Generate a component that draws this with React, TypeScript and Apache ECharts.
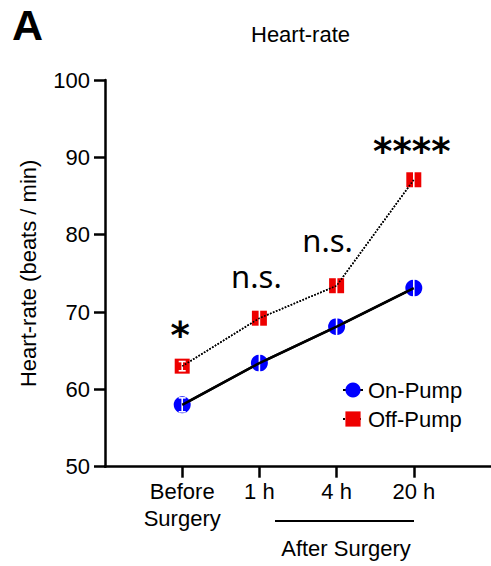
import React, { useEffect, useRef } from "react";
import * as echarts from "echarts";

const categories = ["Before\nSurgery", "1 h", "4 h", "20 h"];
const onPump = [58.0, 63.4, 68.1, 73.1];
const onPumpErr = [0.9, 1.2, 1.2, 1.2];
const offPump = [63.0, 69.2, 73.4, 87.1];
const offPumpErr = [0.6, 1.3, 1.3, 1.5];
const sigLabels = ["*", "n.s.", "n.s.", "****"];
const sigY = [67.0, 74.6, 79.3, 90.8];
const sigDx = [-2, -3, -9, -2];
const yMin = 50;
const yMax = 100;
const yStep = 10;

const FONT = "Liberation Sans";

export default function App() {
  const ref = useRef<HTMLDivElement>(null);
  useEffect(() => {
    if (!ref.current) return;
    const chart = echarts.init(ref.current, null, { renderer: "svg" });
    const xs = categories.map((_, i) => i + 1);
    const errRender = (params: any, api: any) => {
      const x = api.value(0);
      const v = api.value(1);
      const e = api.value(2);
      const top = api.coord([x, v + e]);
      const bot = api.coord([x, v - e]);
      const hw = 3.5;
      const st = { stroke: "#ffffff", lineWidth: 1.6 };
      return {
        type: "group",
        children: [
          { type: "line", shape: { x1: top[0], y1: top[1], x2: bot[0], y2: bot[1] }, style: st },
          { type: "line", shape: { x1: top[0] - hw, y1: top[1], x2: top[0] + hw, y2: top[1] }, style: st },
          { type: "line", shape: { x1: bot[0] - hw, y1: bot[1], x2: bot[0] + hw, y2: bot[1] }, style: st },
        ],
      };
    };
    chart.setOption({
      animation: false,
      backgroundColor: "#ffffff",
      title: {
        text: "Heart-rate",
        left: 246,
        top: 18,
        textStyle: { fontFamily: FONT, fontSize: 22, fontWeight: "normal", color: "#000" },
      },
      legend: {
        data: ["On-Pump", "Off-Pump"],
        orient: "vertical",
        left: 337,
        top: 374,
        itemWidth: 20,
        itemHeight: 19,
        itemGap: 7,
        textStyle: { fontFamily: FONT, fontSize: 22, color: "#000" },
      },
      grid: { left: 105, top: 80, width: 389.5, height: 386.7 },
      xAxis: {
        type: "value",
        min: 0,
        max: 5,
        interval: 1,
        splitLine: { show: false },
        axisLine: { show: true, lineStyle: { color: "#000", width: 2.5 } },
        axisTick: { show: true, length: 11, customValues: xs, lineStyle: { color: "#000", width: 2.5 } },
        axisLabel: {
          customValues: xs,
          formatter: (v: number) => categories[Math.round(v) - 1] ?? "",
          fontFamily: FONT,
          fontSize: 22,
          lineHeight: 27,
          color: "#000",
          margin: 11,
        },
      },
      yAxis: {
        type: "value",
        min: yMin,
        max: yMax,
        interval: yStep,
        name: "Heart-rate (beats / min)",
        nameLocation: "middle",
        nameRotate: 90,
        nameGap: 66,
        nameTextStyle: { fontFamily: FONT, fontSize: 22, color: "#000" },
        splitLine: { show: false },
        axisLine: { show: true, lineStyle: { color: "#000", width: 2.5 } },
        axisTick: { show: true, length: 11, lineStyle: { color: "#000", width: 2.5 } },
        axisLabel: { fontFamily: FONT, fontSize: 22, color: "#000", margin: 15 },
      },
      series: [
        {
          name: "On-Pump",
          type: "line",
          z: 2,
          data: onPump.map((v, i) => [xs[i], v]),
          symbol: "circle",
          symbolSize: 17,
          itemStyle: { color: "#0000ff" },
          lineStyle: { color: "#000", width: 2.5 },
        },
        {
          name: "Off-Pump",
          type: "line",
          z: 2,
          data: offPump.map((v, i) => [xs[i], v]),
          symbol: "rect",
          symbolSize: 15,
          itemStyle: { color: "#ee0000" },
          lineStyle: { color: "#000", width: 1.6, type: "dotted" },
        },
        {
          name: "On-Pump SEM",
          type: "custom",
          z: 3,
          renderItem: errRender,
          encode: { x: 0, y: 1 },
          data: onPump.map((v, i) => [xs[i], v, onPumpErr[i]]),
          silent: true,
        },
        {
          name: "Off-Pump SEM",
          type: "custom",
          z: 3,
          renderItem: errRender,
          encode: { x: 0, y: 1 },
          data: offPump.map((v, i) => [xs[i], v, offPumpErr[i]]),
          silent: true,
        },
        {
          name: "On-Pump line",
          type: "line",
          z: 4,
          silent: true,
          symbol: "none",
          data: onPump.map((v, i) => [xs[i], v]),
          lineStyle: { color: "#000", width: 2.5 },
        },
        {
          name: "Off-Pump line",
          type: "line",
          z: 4,
          silent: true,
          symbol: "none",
          data: offPump.map((v, i) => [xs[i], v]),
          lineStyle: { color: "#000", width: 1.6, type: "dotted" },
        },
        {
          name: "Significance",
          type: "scatter",
          z: 5,
          silent: true,
          symbolSize: 1,
          itemStyle: { color: "transparent" },
          data: sigLabels.map((t, i) => {
            const star = t.startsWith("*");
            return {
              value: [xs[i], sigY[i]],
              label: {
                show: true,
                position: "inside",
                formatter: t,
                offset: [sigDx[i], 0],
                color: "#000000",
                opacity: 1,
                textBorderWidth: 0,
                fontFamily: star ? "DejaVu Sans" : "Noto Sans",
                fontWeight: star ? "bold" : "normal",
                fontSize: star ? 37 : 31,
              },
            };
          }),
        },
      ],
      graphic: [
        {
          type: "text",
          left: 12,
          top: 3,
          style: { text: "A", fontFamily: FONT, fontSize: 43, fontWeight: "bold", fill: "#000" },
        },
        {
          type: "line",
          shape: { x1: 275, y1: 521, x2: 414, y2: 521 },
          style: { stroke: "#000", lineWidth: 2 },
        },
        {
          type: "text",
          x: 346,
          y: 537,
          style: { text: "After Surgery", fontFamily: FONT, fontSize: 22, fill: "#000", textAlign: "center" },
        },
      ],
    });
    return () => chart.dispose();
  }, []);
  return (
    <div
      ref={ref}
      style={{ position: "fixed", left: 0, top: 0, width: 491, height: 566, background: "#fff" }}
    />
  );
}
